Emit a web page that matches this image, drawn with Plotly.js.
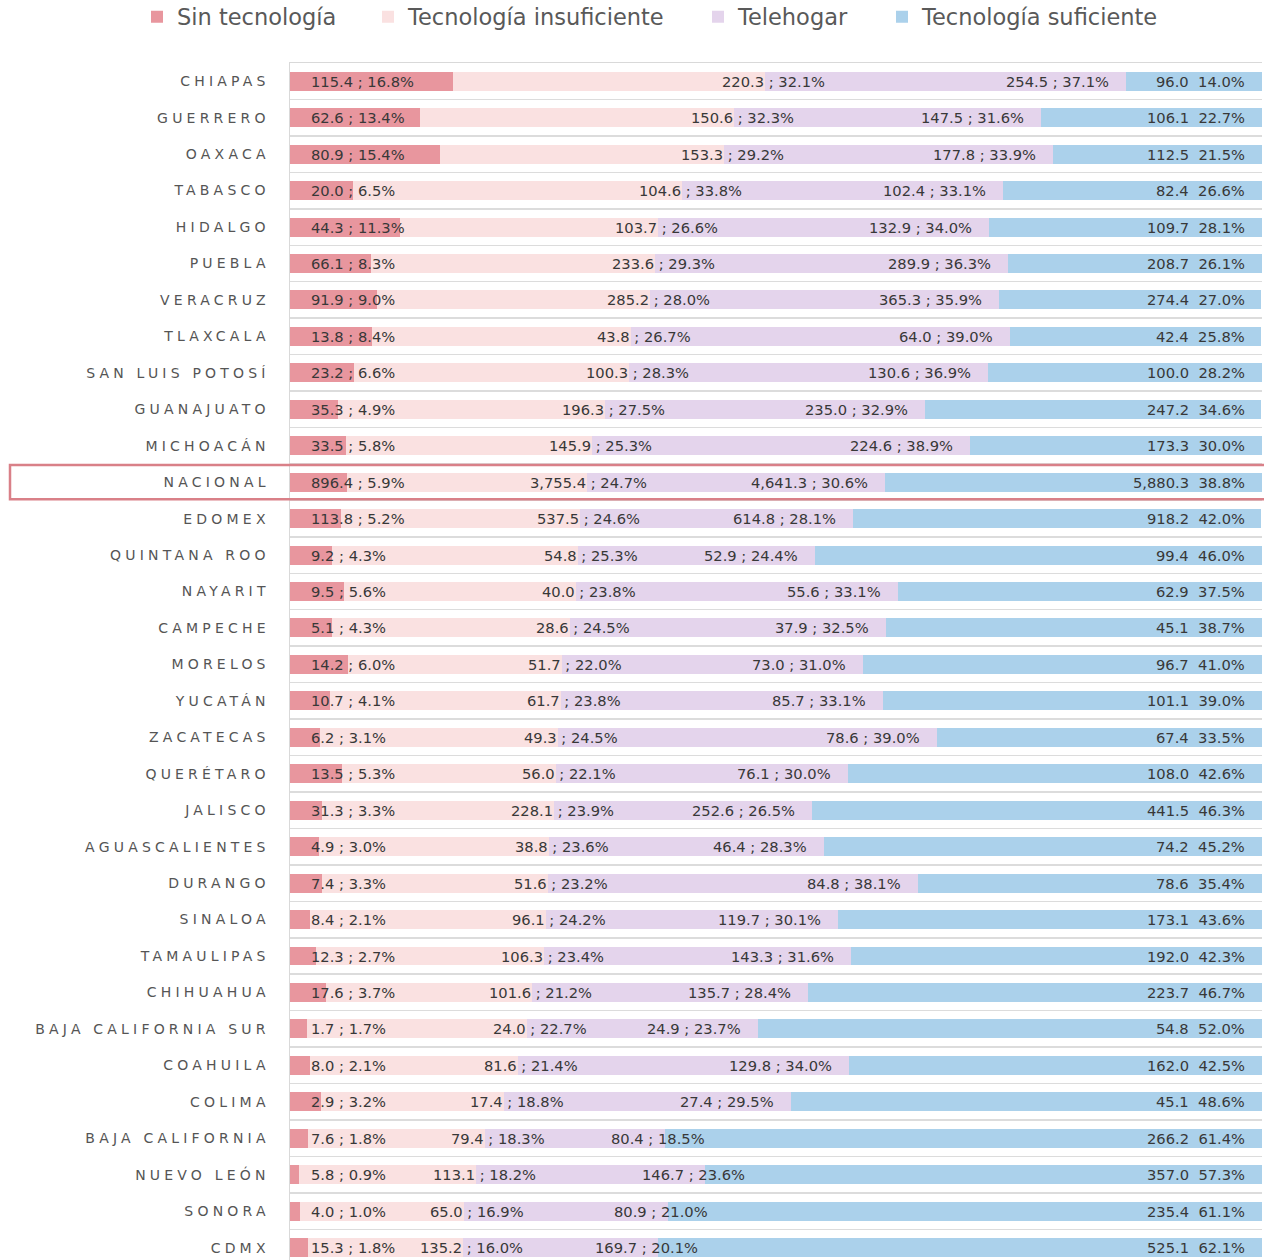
<!DOCTYPE html>
<html><head><meta charset="utf-8">
<script src="https://cdn.plot.ly/plotly-3.0.1.min.js"></script>
<style>
html,body{margin:0;padding:0;background:#fff;}
#chart{width:1264px;height:1260px;}
.ytick text{letter-spacing:4.2px;}
</style></head><body><div id="chart"></div>
<script>
const categorias = ['CHIAPAS','GUERRERO','OAXACA','TABASCO','HIDALGO','PUEBLA','VERACRUZ','TLAXCALA','SAN LUIS POTOSÍ','GUANAJUATO','MICHOACÁN','NACIONAL','EDOMEX','QUINTANA ROO','NAYARIT','CAMPECHE','MORELOS','YUCATÁN','ZACATECAS','QUERÉTARO','JALISCO','AGUASCALIENTES','DURANGO','SINALOA','TAMAULIPAS','CHIHUAHUA','BAJA CALIFORNIA SUR','COAHUILA','COLIMA','BAJA CALIFORNIA','NUEVO LEÓN','SONORA','CDMX'];

const sinTecnologiaValor = [115.4,62.6,80.9,20.0,44.3,66.1,91.9,13.8,23.2,35.3,33.5,896.4,113.8,9.2,9.5,5.1,14.2,10.7,6.2,13.5,31.3,4.9,7.4,8.4,12.3,17.6,1.7,8.0,2.9,7.6,5.8,4.0,15.3];
const sinTecnologiaPct = [16.8,13.4,15.4,6.5,11.3,8.3,9.0,8.4,6.6,4.9,5.8,5.9,5.2,4.3,5.6,4.3,6.0,4.1,3.1,5.3,3.3,3.0,3.3,2.1,2.7,3.7,1.7,2.1,3.2,1.8,0.9,1.0,1.8];

const insuficienteValor = [220.3,150.6,153.3,104.6,103.7,233.6,285.2,43.8,100.3,196.3,145.9,3755.4,537.5,54.8,40.0,28.6,51.7,61.7,49.3,56.0,228.1,38.8,51.6,96.1,106.3,101.6,24.0,81.6,17.4,79.4,113.1,65.0,135.2];
const insuficientePct = [32.1,32.3,29.2,33.8,26.6,29.3,28.0,26.7,28.3,27.5,25.3,24.7,24.6,25.3,23.8,24.5,22.0,23.8,24.5,22.1,23.9,23.6,23.2,24.2,23.4,21.2,22.7,21.4,18.8,18.3,18.2,16.9,16.0];

const telehogarValor = [254.5,147.5,177.8,102.4,132.9,289.9,365.3,64.0,130.6,235.0,224.6,4641.3,614.8,52.9,55.6,37.9,73.0,85.7,78.6,76.1,252.6,46.4,84.8,119.7,143.3,135.7,24.9,129.8,27.4,80.4,146.7,80.9,169.7];
const telehogarPct = [37.1,31.6,33.9,33.1,34.0,36.3,35.9,39.0,36.9,32.9,38.9,30.6,28.1,24.4,33.1,32.5,31.0,33.1,39.0,30.0,26.5,28.3,38.1,30.1,31.6,28.4,23.7,34.0,29.5,18.5,23.6,21.0,20.1];

const suficienteValor = [96.0,106.1,112.5,82.4,109.7,208.7,274.4,42.4,100.0,247.2,173.3,5880.3,918.2,99.4,62.9,45.1,96.7,101.1,67.4,108.0,441.5,74.2,78.6,173.1,192.0,223.7,54.8,162.0,45.1,266.2,357.0,235.4,525.1];
const suficientePct = [14.0,22.7,21.5,26.6,28.1,26.1,27.0,25.8,28.2,34.6,30.0,38.8,42.0,46.0,37.5,38.7,41.0,39.0,33.5,42.6,46.3,45.2,35.4,43.6,42.3,46.7,52.0,42.5,48.6,61.4,57.3,61.1,62.1];

const seriesNombres = ['Sin tecnología','Tecnología insuficiente','Telehogar','Tecnología suficiente'];
const destacado = 'NACIONAL';

const colores = ['#E8969E','#FAE1E1','#E4D4EC','#ABD1EB'];
const pcts = [sinTecnologiaPct, insuficientePct, telehogarPct, suficientePct];
const legendIds = ['legend','legend2','legend3','legend4'];

function fmt(v){return v.toLocaleString('en-US',{minimumFractionDigits:1,maximumFractionDigits:1});}

const traces = seriesNombres.map((name, s) => ({
  type:'bar', orientation:'h', name:name,
  y:categorias, x:pcts[s],
  marker:{color:colores[s], line:{width:0}},
  width:0.52, hoverinfo:'skip', legend:legendIds[s]
}));

const W = 1264, H = 1260, ML = 290, MR = 2, MT = 63, MB = 0;
const PW = W - ML - MR, PH = H - MT - MB;
const pxPerPct = PW / 100;
const px2paperX = p => (p - ML) / PW;

const labelFont = {family:'DejaVu Sans', size:14.7, color:'#383838'};
const ctx = document.createElement('canvas').getContext('2d');
ctx.font = labelFont.size + 'px "DejaVu Sans"';
const textW = t => ctx.measureText(t).width;

const PINK_SHIFT = 62, END_PAD = 15, MIN_GAP = 52, OVER_SHIFT = 42;
const annotations = [];
categorias.forEach((cat, i) => {
  const c1 = sinTecnologiaPct[i];
  const c2 = c1 + insuficientePct[i];
  const c3 = c2 + telehogarPct[i];
  const base = {xref:'x', yref:'y', y:cat, yanchor:'middle', showarrow:false, font:labelFont};
  const t1 = fmt(sinTecnologiaValor[i]) + ' ; ' + sinTecnologiaPct[i].toFixed(1) + '%';
  const t2 = fmt(insuficienteValor[i]) + ' ; ' + insuficientePct[i].toFixed(1) + '%';
  const t3 = fmt(telehogarValor[i]) + ' ; ' + telehogarPct[i].toFixed(1) + '%';
  const t4 = fmt(suficienteValor[i]) + '\u00a0 ' + suficientePct[i].toFixed(1) + '%';
  annotations.push(Object.assign({}, base, {x:0, xanchor:'left', xshift:19, text:t1}));
  annotations.push(Object.assign({}, base, {x:c2, xanchor:'right', xshift:PINK_SHIFT, text:t2}));
  // avoid crowding the previous label: if too close, let the label run past the segment end
  const pinkRight = c2 * pxPerPct + PINK_SHIFT;
  const purpleLeft = c3 * pxPerPct - END_PAD - 2 - textW(t3);
  const shift3 = (purpleLeft - pinkRight < MIN_GAP) ? OVER_SHIFT : -END_PAD;
  annotations.push(Object.assign({}, base, {x:c3, xanchor:'right', xshift:shift3, text:t3}));
  annotations.push(Object.assign({}, base, {x:100, xanchor:'right', xshift:-END_PAD, text:t4}));
});

const legY = 1 + (MT - 17) / PH;
const legendStarts = [137, 368, 698, 882];
const legendFont = {family:'DejaVu Sans', size:22.5, color:'#595959'};

const idx = categorias.indexOf(destacado);
const n = categorias.length;

const layout = {
  width:W, height:H,
  margin:{l:ML, r:MR, t:MT, b:MB, pad:0, autoexpand:false},
  paper_bgcolor:'#ffffff', plot_bgcolor:'#ffffff',
  barmode:'stack', bargap:0.48,
  showlegend:true,
  xaxis:{range:[0,100], showgrid:false, zeroline:false, showticklabels:false, ticks:'',
    showline:true, side:'top', linecolor:'#d9d9d9', linewidth:1.5, fixedrange:true},
  yaxis:{type:'category', categoryorder:'array', categoryarray:categorias,
    range:[n - 0.5 - 0.16, -0.5], tickson:'boundaries', ticks:'', showgrid:true,
    gridcolor:'#dcdcdc', gridwidth:1.5, showline:true, linecolor:'#d9d9d9', linewidth:1.5,
    ticklabelstandoff:16, tickfont:{family:'DejaVu Sans', size:14, color:'#555555'}, fixedrange:true},
  annotations:annotations,
  shapes:[{type:'rect', xref:'paper', yref:'y', x0:px2paperX(10), x1:1.02,
    y0:idx - 0.47, y1:idx + 0.47, line:{color:'#D98088', width:2.5}, fillcolor:'rgba(0,0,0,0)', layer:'above'}],
  hovermode:false
};
legendIds.forEach((id, s) => {
  layout[id] = {orientation:'h', x:px2paperX(legendStarts[s]), xanchor:'left', y:legY, yanchor:'middle',
    font:legendFont, bgcolor:'rgba(0,0,0,0)', borderwidth:0};
});

Plotly.newPlot('chart', traces, layout, {displayModeBar:false, staticPlot:true});
</script></body></html>
